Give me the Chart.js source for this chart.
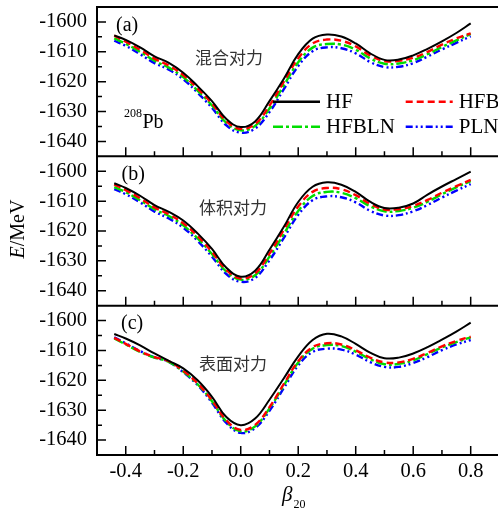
<!DOCTYPE html>
<html>
<head>
<meta charset="utf-8">
<script src="https://cdn.jsdelivr.net/npm/chart.js@4.4.0/dist/chart.umd.min.js"></script>
<style>
  html, body { margin: 0; padding: 0; background: #ffffff; }
  #energy_wrap { width: 498px; height: 511px; }
</style>
</head>
<body>
<div id="energy_wrap"><canvas id="energy_chart" width="498" height="511"></canvas></div>
<script>
// beta20 values where every curve is sampled
let betas = [-0.44, -0.4, -0.35, -0.3, -0.25, -0.2, -0.15, -0.1, -0.05, 0.0, 0.05, 0.1, 0.15,
             0.2, 0.25, 0.3, 0.35, 0.4, 0.45, 0.5, 0.55, 0.6, 0.65, 0.7, 0.75, 0.8];

// (a) mixed pairing
let hfA    = [-1604.5,-1606.0,-1608.5,-1611.5,-1613.7,-1617.0,-1621.5,-1626.5,-1632.5,-1635.2,-1633.3,-1626.5,-1619.0,
              -1610.8,-1605.6,-1604.2,-1604.9,-1607.2,-1610.5,-1612.7,-1612.6,-1611.2,-1609.0,-1606.5,-1603.7,-1600.5];
let hfbA   = [-1604.6,-1606.6,-1609.3,-1612.3,-1614.6,-1617.8,-1622.3,-1627.3,-1633.2,-1635.8,-1634.2,-1628.0,-1620.0,
              -1612.2,-1607.2,-1605.9,-1606.3,-1608.2,-1611.2,-1613.1,-1613.0,-1612.0,-1610.0,-1607.6,-1605.5,-1603.8];
let hfblnA = [-1605.5,-1607.3,-1610.0,-1613.0,-1615.3,-1618.5,-1623.0,-1628.0,-1633.8,-1636.3,-1634.8,-1629.0,-1621.2,
              -1613.5,-1608.6,-1607.4,-1607.6,-1609.3,-1612.2,-1614.0,-1613.9,-1612.8,-1610.8,-1608.4,-1606.2,-1604.0];
let plnA   = [-1606.3,-1608.0,-1610.8,-1613.8,-1616.0,-1619.2,-1623.7,-1628.8,-1634.6,-1637.1,-1635.7,-1630.2,-1622.5,
              -1614.8,-1609.8,-1608.5,-1608.8,-1610.5,-1613.4,-1615.1,-1615.0,-1613.8,-1611.6,-1609.2,-1607.0,-1604.8];

// (b) volume pairing
let hfB    = [-1604.0,-1605.6,-1608.2,-1611.3,-1613.6,-1616.5,-1620.8,-1626.0,-1632.3,-1635.3,-1633.3,-1626.3,-1618.6,
              -1610.3,-1605.2,-1603.7,-1604.5,-1606.9,-1610.2,-1612.3,-1612.2,-1610.8,-1607.8,-1605.1,-1602.6,-1600.1];
let hfbB   = [-1604.4,-1606.3,-1609.0,-1612.1,-1614.4,-1617.4,-1621.7,-1627.0,-1633.0,-1635.9,-1634.2,-1627.6,-1619.6,
              -1611.8,-1606.9,-1605.6,-1606.0,-1608.0,-1610.9,-1612.8,-1612.7,-1611.6,-1609.6,-1607.2,-1605.0,-1602.9];
let hfblnB = [-1605.3,-1607.0,-1609.7,-1612.7,-1615.0,-1618.1,-1622.5,-1627.7,-1633.6,-1636.3,-1634.8,-1628.6,-1621.0,
              -1613.3,-1608.3,-1606.9,-1607.2,-1609.0,-1611.7,-1613.4,-1613.3,-1612.2,-1610.2,-1607.7,-1605.4,-1603.3];
let plnB   = [-1606.0,-1607.7,-1610.4,-1613.5,-1615.8,-1618.9,-1623.3,-1628.6,-1634.4,-1637.0,-1635.7,-1629.8,-1622.3,
              -1614.6,-1609.7,-1608.4,-1608.7,-1610.4,-1613.2,-1614.8,-1614.7,-1613.4,-1611.3,-1608.8,-1606.5,-1604.3];

// (c) surface pairing
let hfC    = [-1604.5,-1606.0,-1608.3,-1611.0,-1613.5,-1616.0,-1620.0,-1625.5,-1632.3,-1635.0,-1632.8,-1626.5,-1619.3,
              -1612.0,-1606.5,-1604.4,-1605.3,-1607.8,-1610.7,-1612.6,-1612.4,-1611.0,-1608.9,-1606.4,-1603.7,-1600.7];
let hfbC   = [-1605.8,-1607.8,-1610.3,-1612.2,-1613.6,-1616.8,-1621.0,-1626.7,-1633.4,-1636.6,-1634.9,-1629.0,-1621.2,
              -1613.6,-1608.9,-1607.6,-1608.0,-1609.9,-1612.4,-1614.0,-1614.0,-1612.8,-1610.8,-1608.6,-1606.8,-1605.4];
let hfblnC = [-1606.0,-1608.0,-1610.5,-1612.4,-1613.8,-1617.1,-1621.3,-1627.0,-1633.8,-1637.1,-1635.4,-1629.4,-1621.7,
              -1614.0,-1609.4,-1608.2,-1608.5,-1610.4,-1612.9,-1614.6,-1614.5,-1613.3,-1611.2,-1609.0,-1607.2,-1605.6];
let plnC   = [-1605.6,-1607.6,-1610.2,-1612.3,-1613.8,-1617.3,-1621.6,-1627.5,-1634.3,-1637.6,-1636.0,-1630.2,-1622.6,
              -1615.0,-1610.5,-1609.4,-1609.7,-1611.4,-1613.9,-1615.5,-1615.5,-1614.2,-1612.2,-1609.9,-1608.0,-1606.5];

let seriesNames = ["HF", "HFB", "HFBLN", "PLN"];
let panelData = [[hfA, hfbA, hfblnA, plnA], [hfB, hfbB, hfblnB, plnB], [hfC, hfbC, hfblnC, plnC]];
let panelTags = ["(a)", "(b)", "(c)"];
let panelTitles = ["混合对力", "体积对力", "表面对力"];

let yTickLabels = [-1640, -1630, -1620, -1610, -1600];
let xTickLabels = [-0.4, -0.2, 0.0, 0.2, 0.4, 0.6, 0.8];

// panel scale ids, top to bottom
let panelIds = ["ya", "yb", "yc"];

let lineColors = ["#000000", "#ff0000", "#00dd00", "#0000ff"];
let lineDashes = [[], [7, 4], [10, 3, 3, 3], [7, 3, 2, 3, 2, 3]];
let lineWidths = [2, 2.4, 2.4, 2.4];

// where the tag / title text sits in each panel (px from panel's left / top)
let tagPos   = [[19, 23.5], [24.5, 24], [24, 23]];
let titlePos = [[98, 51], [102, 51.5], [102, 58]];

let serif = "'Liberation Serif', 'Times New Roman', serif";
let cjk = "'Noto Sans CJK SC', sans-serif";

let datasets = [];
panelIds.forEach(function(id, p) {
    seriesNames.forEach(function(name, s) {
        datasets.push({
            label: name,
            yAxisID: id,
            data: betas.map(function(b, i) { return {x: b, y: panelData[p][s][i]}; }),
            borderColor: lineColors[s],
            borderDash: lineDashes[s],
            borderWidth: lineWidths[s],
            pointRadius: 0,
            fill: false,
            tension: 0.4
        });
    });
});

function noPadding(scale) {
    scale.paddingTop = 0;
    scale.paddingBottom = 0;
    scale.paddingLeft = 0;
    scale.paddingRight = 0;
}

function yAxis(weight) {
    return {
        type: "linear",
        position: "left",
        stack: "panels",
        stackWeight: 1,
        weight: weight,
        min: -1645,
        max: -1595,
        grid: {display: false, drawTicks: false},
        border: {display: false},
        ticks: {
            stepSize: 5,
            autoSkip: false,
            includeBounds: false,
            padding: 10,
            color: "#000",
            font: {family: serif, size: 20.5},
            callback: function(v) { return yTickLabels.includes(v) ? String(v) : ""; }
        },
        afterFit: function(scale) {
            scale.width = 97;
            noPadding(scale);
        }
    };
}

// frame, inward ticks and all the annotation text
const panelDecor = {
    id: "panelDecor",
    afterDraw(chart) {
        let ctx = chart.ctx;
        let xs = chart.scales.x;
        let left = chart.chartArea.left, right = chart.chartArea.right;
        ctx.save();
        ctx.strokeStyle = "#000";
        ctx.fillStyle = "#000";

        panelIds.forEach(function(id, p) {
            let ys = chart.scales[id];
            ctx.lineWidth = 2;
            ctx.setLineDash([]);
            ctx.beginPath();
            ctx.moveTo(left, ys.top);
            ctx.lineTo(left, ys.bottom);
            ctx.moveTo(left - 1, ys.bottom);
            ctx.lineTo(right, ys.bottom);
            if (p == 0) {
                ctx.moveTo(left - 1, ys.top);
                ctx.lineTo(right, ys.top);
            }
            ctx.stroke();

            ctx.lineWidth = 1.5;
            ctx.beginPath();
            ys.ticks.forEach(function(t) {
                if (t.value <= ys.min || t.value >= ys.max) return;
                let py = ys.getPixelForValue(t.value);
                let len = (t.value % 10 == 0) ? 9 : 5;
                ctx.moveTo(left, py);
                ctx.lineTo(left + len, py);
            });
            xs.ticks.forEach(function(t) {
                if (t.value <= xs.min + 1e-6 || t.value >= xs.max - 1e-6) return;
                let px = xs.getPixelForValue(t.value);
                let len = (Math.round(t.value * 10) % 2 == 0) ? 9 : 5;
                ctx.moveTo(px, ys.bottom);
                ctx.lineTo(px, ys.bottom - len);
            });
            ctx.stroke();

            ctx.textBaseline = "alphabetic";
            ctx.textAlign = "left";
            ctx.font = "20px " + serif;
            ctx.fillText(panelTags[p], left + tagPos[p][0], ys.top + tagPos[p][1]);

            ctx.textBaseline = "middle";
            ctx.font = "17px " + cjk;
            ctx.fillStyle = "#333";
            ctx.fillText(panelTitles[p], left + titlePos[p][0], ys.top + titlePos[p][1]);
            ctx.fillStyle = "#000";
        });

        // nucleus label and legend in the top panel
        let top = chart.scales.ya.top;
        ctx.textBaseline = "alphabetic";
        ctx.font = "12px " + serif;
        ctx.fillText("208", left + 27, top + 109.5);
        ctx.font = "20px " + serif;
        ctx.fillText("Pb", left + 45.5, top + 121);

        let cols = [176, 308.7];
        let rows = [94.7, 119.7];
        seriesNames.forEach(function(name, s) {
            let lx = left + cols[s % 2];
            let ly = top + rows[Math.floor(s / 2)];
            ctx.strokeStyle = lineColors[s];
            ctx.lineWidth = 2.5;
            ctx.setLineDash(lineDashes[s]);
            ctx.beginPath();
            ctx.moveTo(lx, ly);
            ctx.lineTo(lx + 47, ly);
            ctx.stroke();
            ctx.setLineDash([]);
            ctx.textBaseline = "middle";
            ctx.font = "21px " + serif;
            ctx.fillText(name, lx + 53, ly + 1);
        });

        // axis titles
        let yb = chart.scales.yb;
        ctx.save();
        ctx.translate(19, (yb.top + yb.bottom) / 2 - 2);
        ctx.rotate(-Math.PI / 2);
        ctx.textBaseline = "middle";
        ctx.font = "italic 20px " + serif;
        let wE = ctx.measureText("E").width;
        ctx.font = "20px " + serif;
        let wRest = ctx.measureText("/MeV").width;
        let x0 = -(wE + wRest) / 2;
        ctx.font = "italic 20px " + serif;
        ctx.fillText("E", x0, 0);
        ctx.font = "20px " + serif;
        ctx.fillText("/MeV", x0 + wE, 0);
        ctx.restore();

        ctx.textBaseline = "alphabetic";
        ctx.font = "italic 21px " + serif;
        ctx.fillText("β", 282, 500.5);
        let wBeta = ctx.measureText("β").width;
        ctx.font = "12px " + serif;
        ctx.fillText("20", 282 + wBeta + 1, 508);
        ctx.restore();
    }
};

new Chart("energy_chart", {
    type: "line",
    data: {datasets: datasets},
    options: {
        responsive: false,
        animation: false,
        devicePixelRatio: 1,
        layout: {padding: {top: 7, left: 0, right: 0, bottom: 0}},
        plugins: {legend: {display: false}, tooltip: {enabled: false}},
        scales: {
            x: {
                type: "linear",
                position: "bottom",
                min: -0.5,
                max: 0.895,
                grid: {display: false, drawTicks: false},
                border: {display: false},
                ticks: {
                    stepSize: 0.1,
                    autoSkip: false,
                    includeBounds: false,
                    maxRotation: 0,
                    padding: 4,
                    color: "#000",
                    font: {family: serif, size: 20.5},
                    callback: function(v) {
                        let r = Math.round(v * 10) / 10;
                        return xTickLabels.some(function(l) { return Math.abs(l - r) < 1e-9; }) ? r.toFixed(1) : "";
                    }
                },
                afterFit: function(scale) {
                    scale.height = 56;
                    noPadding(scale);
                }
            },
            ya: yAxis(3),
            yb: yAxis(2),
            yc: yAxis(1)
        }
    },
    plugins: [panelDecor]
});
</script>
</body>
</html>
